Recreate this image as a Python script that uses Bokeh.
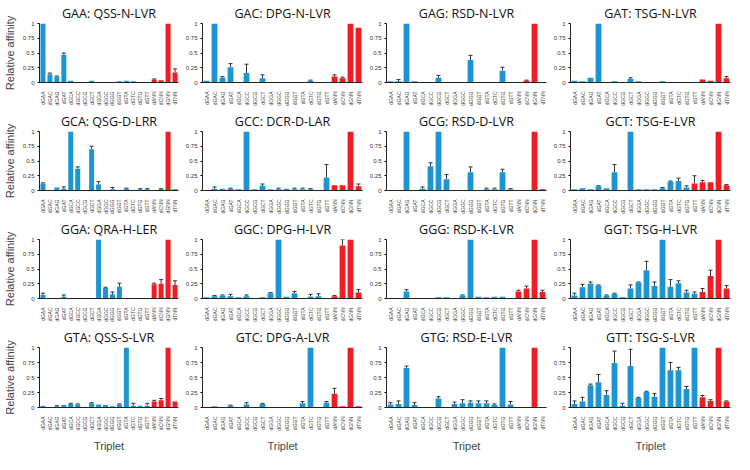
import math
from bokeh.plotting import figure
from bokeh.models import ColumnDataSource, FactorRange, Range1d, FixedTicker, Whisker, TeeHead, AllLabels
from bokeh.layouts import gridplot
from bokeh.embed import file_html
from bokeh.resources import INLINE

categories = ["dGAA", "dGAC", "dGAG", "dGAT", "dGCA", "dGCC", "dGCG", "dGCT",
              "dGGA", "dGGC", "dGGG", "dGGT", "dGTA", "dGTC", "dGTG", "dGTT",
              "dANN", "dCNN", "dGNN", "dTNN"]
red_categories = ["dANN", "dCNN", "dGNN", "dTNN"]

titles = ["GAA: QSS-N-LVR", "GAC: DPG-N-LVR", "GAG: RSD-N-LVR", "GAT: TSG-N-LVR",
          "GCA: QSG-D-LRR", "GCC: DCR-D-LAR", "GCG: RSD-D-LVR", "GCT: TSG-E-LVR",
          "GGA: QRA-H-LER", "GGC: DPG-H-LVR", "GGG: RSD-K-LVR", "GGT: TSG-H-LVR",
          "GTA: QSS-S-LVR", "GTC: DPG-A-LVR", "GTG: RSD-E-LVR", "GTT: TSG-S-LVR"]
x_labels = ["Triplet", "Triplet", "Tripet", "Triplet"]
y_label = "Relative affinity"
y_ticks = [0, 0.25, 0.5, 0.75, 1]
y_tick_labels = ["0", "0.25", "0.5", "0.75", "1"]

gaa_vals = [1.0, 0.14, 0.10, 0.47, 0.03, 0.01, 0.005, 0.03, 0.01, 0.01, 0.01, 0.02, 0.03, 0.02, 0.01, 0.01, 0.05, 0.04, 1.0, 0.17]
gaa_err = [0, 0.02, 0.01, 0.03, 0, 0, 0, 0, 0, 0, 0, 0, 0, 0, 0, 0, 0.01, 0, 0, 0.06]
gac_vals = [0.03, 1.0, 0.08, 0.26, 0.01, 0.16, 0.005, 0.07, 0.005, 0.005, 0.01, 0.01, 0.01, 0.03, 0.01, 0.01, 0.10, 0.07, 1.0, 0.93]
gac_err = [0, 0, 0.02, 0.06, 0, 0.15, 0, 0.06, 0, 0, 0, 0, 0, 0.01, 0, 0, 0.03, 0.02, 0, 0]
gag_vals = [0.02, 0.02, 1.0, 0.02, 0.005, 0.005, 0.08, 0.01, 0.005, 0.005, 0.38, 0.01, 0.01, 0.01, 0.20, 0.01, 0.005, 0.03, 1.0, 0.01]
gag_err = [0, 0.03, 0, 0, 0, 0, 0.04, 0, 0, 0, 0.08, 0, 0, 0, 0.06, 0, 0, 0.01, 0, 0]
gat_vals = [0.03, 0.02, 0.08, 1.0, 0.005, 0.02, 0.005, 0.06, 0.02, 0.01, 0.01, 0.02, 0.01, 0.005, 0.01, 0.01, 0.05, 0.03, 1.0, 0.07]
gat_err = [0, 0, 0, 0, 0, 0, 0, 0.02, 0, 0, 0, 0, 0, 0, 0, 0, 0, 0, 0, 0.03]

gca_vals = [0.12, 0.01, 0.05, 0.03, 1.0, 0.37, 0.005, 0.70, 0.10, 0.005, 0.02, 0.01, 0.03, 0.005, 0.02, 0.02, 0.01, 0.02, 1.0, 0.02]
gca_err = [0.01, 0, 0, 0.03, 0, 0.03, 0, 0.05, 0.05, 0, 0.03, 0, 0.01, 0, 0.01, 0.01, 0, 0.01, 0, 0]
gcc_vals = [0.01, 0.03, 0.03, 0.03, 0.02, 1.0, 0.02, 0.08, 0.02, 0.02, 0.03, 0.02, 0.02, 0.02, 0.01, 0.22, 0.09, 0.09, 1.0, 0.07]
gcc_err = [0, 0.03, 0, 0.01, 0, 0, 0, 0.03, 0, 0.02, 0, 0.02, 0.02, 0.01, 0, 0.22, 0, 0, 0, 0.04]
gcg_vals = [0.005, 0.005, 1.0, 0.005, 0.03, 0.41, 1.0, 0.19, 0.005, 0.005, 0.31, 0.005, 0.02, 0.02, 0.31, 0.02, 0.005, 0.005, 1.0, 0.02]
gcg_err = [0, 0, 0, 0, 0.03, 0.06, 0, 0.08, 0, 0, 0.09, 0, 0.02, 0.02, 0.05, 0.01, 0, 0, 0, 0]
gct_vals = [0.02, 0.04, 0.02, 0.07, 0.04, 0.31, 0.005, 1.0, 0.02, 0.02, 0.02, 0.04, 0.15, 0.16, 0.05, 0.12, 0.14, 0.14, 1.0, 0.09]
gct_err = [0, 0, 0, 0.01, 0, 0.13, 0, 0, 0, 0, 0, 0.01, 0.01, 0.05, 0.03, 0.13, 0.03, 0, 0, 0.01]

gga_vals = [0.06, 0.005, 0.01, 0.03, 0.005, 0.01, 0.005, 0.005, 1.0, 0.18, 0.07, 0.20, 0.01, 0.005, 0.005, 0.005, 0.24, 0.25, 1.0, 0.23]
gga_err = [0.03, 0, 0, 0.03, 0, 0, 0, 0, 0, 0.01, 0.04, 0.06, 0, 0, 0, 0, 0.02, 0.07, 0, 0.07]
ggc_vals = [0.02, 0.04, 0.05, 0.04, 0.02, 0.04, 0.005, 0.02, 0.09, 1.0, 0.03, 0.09, 0.005, 0.03, 0.04, 0.005, 0.04, 0.90, 1.0, 0.10]
ggc_err = [0, 0.01, 0.01, 0.03, 0, 0.02, 0, 0, 0.01, 0, 0, 0.03, 0, 0.04, 0.04, 0, 0.01, 0.10, 0, 0.05]
ggg_vals = [0.01, 0.01, 0.12, 0.01, 0.005, 0.005, 0.02, 0.02, 0.01, 0.05, 1.0, 0.03, 0.02, 0.03, 0.03, 0.005, 0.12, 0.17, 1.0, 0.11]
ggg_err = [0, 0, 0.03, 0, 0, 0, 0, 0, 0, 0.01, 0, 0, 0, 0, 0, 0, 0.02, 0.04, 0, 0.03]
ggt_vals = [0.05, 0.19, 0.25, 0.22, 0.05, 0.08, 0.02, 0.17, 0.27, 0.48, 0.21, 1.0, 0.20, 0.26, 0.10, 0.08, 0.11, 0.38, 1.0, 0.17]
ggt_err = [0.04, 0.05, 0.03, 0.01, 0.01, 0.01, 0, 0.06, 0.01, 0.15, 0.07, 0, 0.12, 0.04, 0.04, 0.03, 0.06, 0.10, 0, 0.05]

gta_vals = [0.03, 0.01, 0.02, 0.04, 0.06, 0.05, 0.01, 0.07, 0.05, 0.04, 0.02, 0.05, 1.0, 0.03, 0.03, 0.03, 0.10, 0.12, 1.0, 0.10]
gta_err = [0, 0, 0.01, 0, 0.01, 0.01, 0, 0.01, 0, 0, 0, 0.01, 0, 0.04, 0, 0.04, 0.02, 0.03, 0, 0]
gtc_vals = [0.01, 0.02, 0.005, 0.03, 0.01, 0.05, 0.01, 0.06, 0.005, 0.01, 0.01, 0.01, 0.07, 1.0, 0.01, 0.08, 0.23, 0.02, 1.0, 0.02]
gtc_err = [0, 0, 0, 0.01, 0, 0.03, 0, 0.01, 0, 0, 0, 0, 0.03, 0, 0, 0.02, 0.09, 0, 0, 0]
gtg_vals = [0.05, 0.06, 0.66, 0.04, 0.005, 0.005, 0.15, 0.005, 0.06, 0.07, 0.08, 0.07, 0.07, 0.04, 1.0, 0.05, 0.005, 0.01, 1.0, 0.01]
gtg_err = [0.03, 0.05, 0.03, 0.04, 0, 0, 0.03, 0, 0.03, 0.06, 0.03, 0.04, 0.04, 0.02, 0, 0.05, 0, 0, 0, 0]
gtt_vals = [0.06, 0.10, 0.37, 0.42, 0.21, 0.74, 0.03, 0.69, 0.16, 0.26, 0.18, 1.0, 0.62, 0.62, 0.31, 1.0, 0.17, 0.11, 1.0, 0.10]
gtt_err = [0.05, 0.07, 0.02, 0.13, 0.07, 0.20, 0.04, 0.28, 0.01, 0.01, 0.05, 0, 0.13, 0.05, 0.04, 0, 0.03, 0.02, 0, 0.01]

# in the GCT panel the dGTT bar is also drawn in red
extra_red = {"GCT: TSG-E-LVR": ["dGTT"]}

panel_values = [gaa_vals, gac_vals, gag_vals, gat_vals,
                gca_vals, gcc_vals, gcg_vals, gct_vals,
                gga_vals, ggc_vals, ggg_vals, ggt_vals,
                gta_vals, gtc_vals, gtg_vals, gtt_vals]
panel_errors = [gaa_err, gac_err, gag_err, gat_err,
                gca_err, gcc_err, gcg_err, gct_err,
                gga_err, ggc_err, ggg_err, ggt_err,
                gta_err, gtc_err, gtg_err, gtt_err]

BLUE = "#1C96D3"
RED = "#F21D24"
TITLE_FONT = "Open Sans"
TICK_FONT = "Liberation Sans"

col_widths = [182, 184, 184, 184]
row_heights = [108, 108, 108, 130]

grid = []
for r in range(4):
    row_figs = []
    for c in range(4):
        i = r * 4 + c
        title = titles[i]
        vals = panel_values[i]
        errs = panel_errors[i]
        reds = set(red_categories) | set(extra_red.get(title, []))
        colors = [RED if cat in reds else BLUE for cat in categories]
        src = ColumnDataSource(dict(x=categories, top=vals, color=colors))
        ex = [categories[k] for k in range(len(categories)) if errs[k] > 0]
        elo = [vals[k] for k in range(len(categories)) if errs[k] > 0]
        ehi = [vals[k] + errs[k] for k in range(len(categories)) if errs[k] > 0]
        esrc = ColumnDataSource(dict(x=ex, lower=elo, upper=ehi))

        last_row = (r == 3)
        p = figure(x_range=FactorRange(*categories), y_range=Range1d(0, 1.0),
                   width=col_widths[c], height=row_heights[r],
                   output_backend="svg", toolbar_location=None,
                   title=title,
                   min_border_left=34 if c == 0 else 20,
                   min_border_right=4, min_border_top=4,
                   min_border_bottom=4)
        p.title.text_font = TITLE_FONT
        p.title.text_font_size = "12.5px"
        p.title.text_font_style = "normal"
        p.title.align = "center"
        p.title.text_color = "#111111"
        p.title.standoff = 4

        p.vbar(x="x", top="top", width=0.72, source=src, fill_color="color",
               line_color=None)
        w = Whisker(source=esrc, base="x", lower="lower", upper="upper",
                    dimension="height", line_color="#333333", line_width=1,
                    lower_head=None,
                    upper_head=TeeHead(size=4, line_color="#333333", line_width=1))
        p.add_layout(w)

        p.xgrid.visible = False
        p.ygrid.visible = False
        p.outline_line_color = None

        p.yaxis.ticker = FixedTicker(ticks=y_ticks)
        p.yaxis.major_label_overrides = {t: lab for t, lab in zip(y_ticks, y_tick_labels)}
        p.yaxis.major_label_text_font = TICK_FONT
        p.yaxis.major_label_text_font_size = "6px"
        p.yaxis.major_label_text_color = "#333333"
        p.yaxis.major_tick_in = 0
        p.yaxis.major_tick_out = 2
        p.yaxis.minor_tick_line_color = None
        p.yaxis.axis_line_color = "#222222"
        p.yaxis.major_label_standoff = 3

        p.xaxis.major_label_orientation = math.pi / 2
        p.xaxis.major_label_policy = AllLabels()
        p.xaxis.major_label_text_font = TICK_FONT
        p.xaxis.major_label_text_font_size = "5px"
        p.xaxis.major_label_text_color = "#444444"
        p.xaxis.major_tick_line_color = None
        p.xaxis.axis_line_color = "#222222"
        p.xaxis.major_label_standoff = 3

        if c == 0:
            p.yaxis.axis_label = y_label
            p.yaxis.axis_label_text_font = TICK_FONT
            p.yaxis.axis_label_text_font_size = "11px"
            p.yaxis.axis_label_text_font_style = "normal"
            p.yaxis.axis_label_standoff = 4
        if last_row:
            p.xaxis.axis_label = x_labels[c]
            p.xaxis.axis_label_text_font = TICK_FONT
            p.xaxis.axis_label_text_font_size = "11px"
            p.xaxis.axis_label_text_font_style = "normal"
            p.xaxis.axis_label_standoff = 6
        row_figs.append(p)
    grid.append(row_figs)

layout = gridplot(grid, toolbar_location=None)

with open("out.html", "w") as f:
    f.write(file_html(layout, INLINE))
